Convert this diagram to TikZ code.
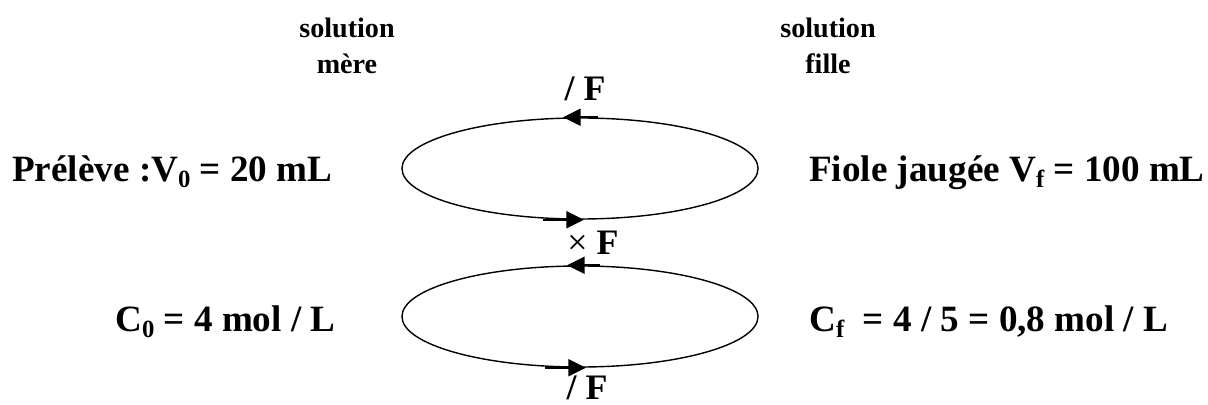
\documentclass[tikz,border=0pt]{standalone}
\usepackage{fontspec}
\setmainfont{Liberation Serif}
\usetikzlibrary{shapes.geometric, arrows.meta, calc}

\newcommand{\indice}[1]{\raisebox{-0.3ex}{\fontsize{17.6}{18}\selectfont #1}}

\begin{document}
\begin{tikzpicture}[
    x=0.025cm, y=-0.025cm,
    titre/.style={align=center, inner sep=0pt, font=\fontsize{20}{25.6}\selectfont\bfseries},
    valeur/.style={anchor=base west, inner sep=0pt, font=\fontsize{26.4}{32}\selectfont\bfseries},
    op/.style={anchor=base, inner sep=0pt, font=\fontsize{25.5}{30}\selectfont\bfseries},
    boucle/.style={ellipse, draw, line width=1pt, inner sep=0pt, minimum width=8.9cm, minimum height=2.525cm},
    fleche/.style={-{Triangle[length=12.5pt, width=12pt]}, line width=1.6pt}
]
\useasboundingbox (0,0) rectangle (1208,405);

% Titles
\node[titre, anchor=north] (mere) at (347,18) {solution\\mère};
\node[titre, anchor=north] (fille) at (828,18) {solution\\fille};

% Volumes
\node[valeur] (v0) at (12,182) {Prélève :V\indice{0} = 20 mL};
\node[valeur] (vf) at (809,182) {Fiole jaugée V\indice{f} = 100 mL};
\node[boucle] (haut) at (580,168.5) {};

% Concentrations
\node[valeur] (c0) at (115,332) {C\indice{0} = 4 mol / L};
\node[valeur] (cf) at (809,332) {C\indice{f}\ \ = 4 / 5 = 0,8 mol / L};
\node[boucle] (bas) at (580,316.5) {};

% Operations
\node[op] (div1) at (585,101) {/ F};
\node[op] (mult) at (593,255) {\fontseries{m}\selectfont×\ \bfseries F};
\node[op] (div2) at (587,399) {/ F};

% Arrows on the loops
\draw[fleche] ($(haut.north)+(18,0)$) -- ($(haut.north)+(-17,0)$);
\draw[fleche] ($(haut.south)+(-37,0)$) -- ($(haut.south)+(4,0)$);
\draw[fleche] ($(bas.north)+(20,0)$) -- ($(bas.north)+(-13,0)$);
\draw[fleche] ($(bas.south)+(-35,0)$) -- ($(bas.south)+(6,0)$);

\end{tikzpicture}
\end{document}
